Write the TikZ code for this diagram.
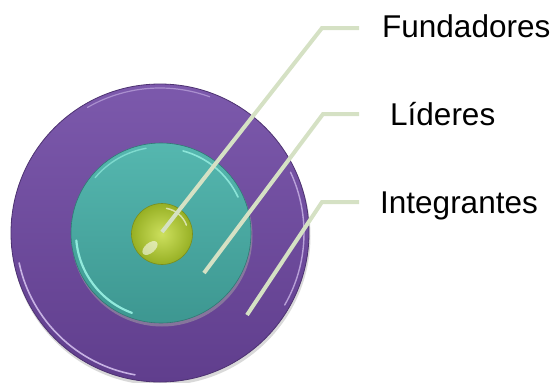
\documentclass[tikz,border=0pt]{standalone}
\usepackage{fontspec}
\setmainfont{Liberation Sans}
\usetikzlibrary{shadings}
\definecolor{purpT}{HTML}{7C59AC}
\definecolor{purpB}{HTML}{603E8D}
\definecolor{tealT}{HTML}{55B7AF}
\definecolor{tealB}{HTML}{3D9791}
\definecolor{grnT}{HTML}{CDE05E}
\definecolor{grnB}{HTML}{97B024}
\definecolor{leader}{HTML}{D5E1C4}
\definecolor{rimP}{HTML}{D9C6F2}
\definecolor{rimT}{HTML}{9AF2E4}
\begin{document}
\begin{tikzpicture}[x=1pt,y=-1pt,
  ring/.style={circle,inner sep=0pt,minimum size=#1},
  lbl/.style={anchor=base west,inner sep=0pt,font=\fontsize{31.5}{36}\selectfont,text=black},
  leadline/.style={draw=leader,line width=4pt},
  glint/.style={line width=#1,line cap=round}]
\useasboundingbox (0,0) rectangle (555,383);
% outer ring with soft shadow
\fill[black!15] (161,236) circle (149.5);
\node[ring=298pt,top color=purpT,bottom color=purpB,draw=purpB!80!black,line width=0.8pt] (outer) at (160,233) {};
\draw[rimP,glint=1.6pt,opacity=0.85] (160,233) ++(100:144) arc (100:168:144);
\draw[rimP,glint=1.4pt,opacity=0.7] (160,233) ++(-25:144) arc (-25:30:144);
\draw[rimP,glint=1.2pt,opacity=0.5] (160,233) ++(-120:145) arc (-120:-70:145);
% middle teal disc
\fill[black!35,opacity=0.5] (162,236) circle (90.5);
\node[ring=180pt,top color=tealT,bottom color=tealB,draw=tealB!80!black,line width=0.6pt] (middle) at (161,233) {};
\draw[rimT,glint=2.2pt,opacity=0.9] (161,233) ++(110:85) arc (110:175:85);
\draw[rimT,glint=1.6pt,opacity=0.8] (161,233) ++(-75:85) arc (-75:-25:85);
\draw[rimT,glint=1.4pt,opacity=0.6] (161,233) ++(-140:86) arc (-140:-100:86);
% inner green ball
\node[ring=61pt,inner color=grnT,outer color=grnB,draw=grnB!80!black,line width=0.6pt] (core) at (162,234) {};
\fill[white,opacity=0.55,rotate around={40:(150,248)}] (150,248) ellipse (9 and 5);
\draw[white,glint=1.5pt,opacity=0.6] (162,234) ++(-80:26) arc (-80:-20:26);
% labels
\node[lbl] (fund) at (382,37.7) {Fundadores};
\node[lbl] (lid) at (390,125) {Líderes};
\node[lbl] (integ) at (380,213) {Integrantes};
% leader line points
\coordinate (f0) at (162,232);
\coordinate (f1) at (322,28);
\coordinate (f2) at (359,28);
\coordinate (l0) at (204,273);
\coordinate (l1) at (323,114);
\coordinate (l2) at (359,114);
\coordinate (i0) at (247,315);
\coordinate (i1) at (322,202);
\coordinate (i2) at (359,202);
\draw[leadline] (f0) -- (f1) -- (f2);
\draw[leadline] (l0) -- (l1) -- (l2);
\draw[leadline] (i0) -- (i1) -- (i2);
\end{tikzpicture}
\end{document}
